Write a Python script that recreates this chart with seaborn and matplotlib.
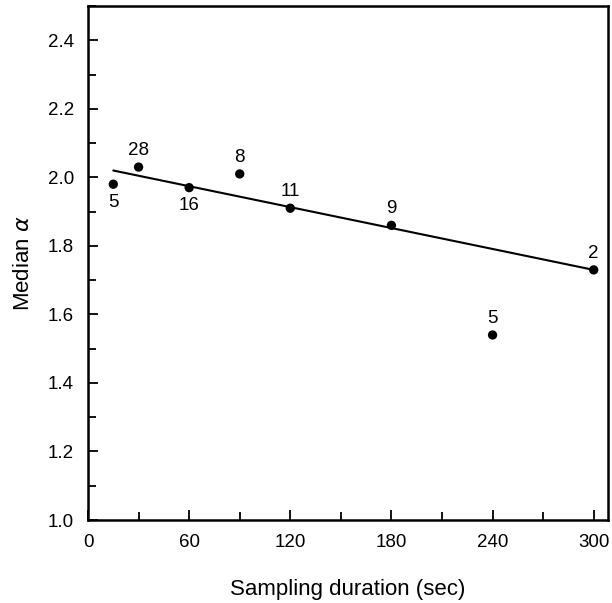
import numpy as np
import pandas as pd
import seaborn as sns
import matplotlib.pyplot as plt
from matplotlib.ticker import MultipleLocator

# Median alpha vs sampling duration, numbers are sample counts
duration = [15, 30, 60, 90, 120, 180, 240, 300]
median_alpha = [1.98, 2.03, 1.97, 2.01, 1.91, 1.86, 1.54, 1.73]
counts = ['5', '28', '16', '8', '11', '9', '5', '2']
label_side = ['below', 'above', 'below', 'above', 'above', 'above', 'above', 'above']

# fitted line
fit_x = [15, 300]
fit_y = [2.02, 1.73]

sns.set_style('ticks')
plt.rcParams['font.family'] = ['Liberation Sans', 'DejaVu Sans']
plt.rcParams['mathtext.fontset'] = 'dejavusans'
plt.rcParams['text.color'] = 'black'
plt.rcParams['axes.labelcolor'] = 'black'

dtf = pd.DataFrame({'Duration': duration, 'Alpha': median_alpha,
                    'n': counts, 'side': label_side})
dfit = pd.DataFrame({'Duration': fit_x, 'Alpha': fit_y})

fig = plt.figure(figsize=(6.12, 6.03), dpi=100)
ax = fig.add_axes([0.1438, 0.1376, 0.8497, 0.8524])

sns.lineplot(data=dfit, x='Duration', y='Alpha', color='black', linewidth=1.5, ax=ax)
sns.scatterplot(data=dtf, x='Duration', y='Alpha', color='black', s=45,
                edgecolor='none', ax=ax, zorder=3)

for _, r in dtf.iterrows():
    if r['side'] == 'above':
        ax.annotate(r['n'], (r['Duration'], r['Alpha']), xytext=(0, 6),
                    textcoords='offset points', ha='center', va='bottom', fontsize=13.5)
    else:
        ax.annotate(r['n'], (r['Duration'], r['Alpha']), xytext=(0, -7),
                    textcoords='offset points', ha='center', va='top', fontsize=13.5)

ax.set_xlim(1.5, 308.5)
ax.set_ylim(1.0, 2.5)
ax.xaxis.set_minor_locator(MultipleLocator(30))
ax.yaxis.set_minor_locator(MultipleLocator(0.1))
ax.set_xticks([0, 60, 120, 180, 240, 300])
ax.set_yticks([1.0, 1.2, 1.4, 1.6, 1.8, 2.0, 2.2, 2.4])
ax.yaxis.set_major_formatter(plt.FuncFormatter(lambda v, p: f'{v:.1f}'))

ax.tick_params(which='both', direction='in', colors='black', labelcolor='black',
               labelsize=13.5, width=1.3)
ax.tick_params(which='major', length=7)
ax.tick_params(which='minor', length=6)
ax.tick_params(axis='y', which='major', pad=10)
ax.tick_params(axis='x', which='major', pad=10)

for sp in ax.spines.values():
    sp.set_linewidth(1.8)
    sp.set_color('black')

ax.set_xlabel('Sampling duration (sec)', fontsize=16, labelpad=20)
ax.set_ylabel(r'Median $\alpha$', fontsize=16, labelpad=10)

fig.savefig('out.png', dpi=100)
